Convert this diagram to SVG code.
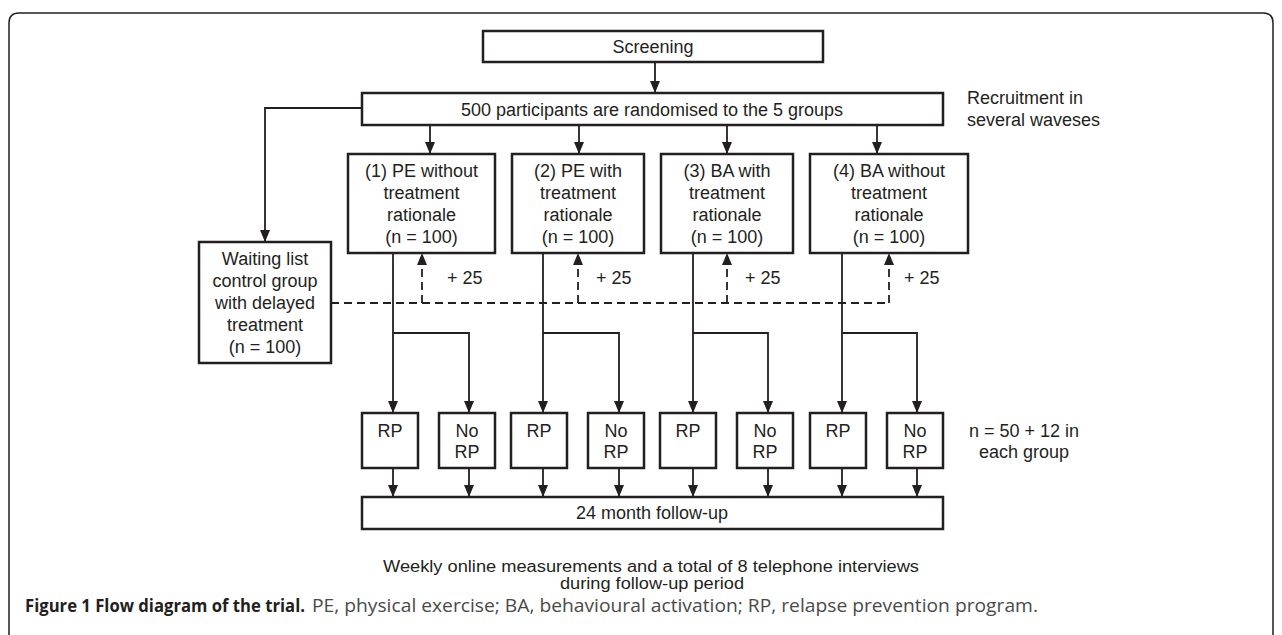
<svg xmlns="http://www.w3.org/2000/svg" width="1282" height="635" viewBox="0 0 1282 635">
<style>
.bx{fill:#fff;stroke:#231f20;stroke-width:2.5}
.t{font-family:"Liberation Sans",Arial,sans-serif;font-size:18px;fill:#231f20;text-anchor:middle}
.tl{font-family:"Liberation Sans",Arial,sans-serif;font-size:18px;fill:#231f20}
.ln{fill:none;stroke:#231f20;stroke-width:1.8}
.dl{fill:none;stroke:#231f20;stroke-width:1.8;stroke-dasharray:8 5}
.nt{font-family:"Liberation Sans",Arial,sans-serif;font-size:16px;fill:#231f20;text-anchor:middle}
.cap{font-family:"Open Sans","Noto Sans",sans-serif;font-size:17px}
</style>
<defs>
<marker id="ah2" viewBox="0 0 12 10" refX="12" refY="5" markerWidth="12" markerHeight="10" markerUnits="userSpaceOnUse" orient="auto">
<path d="M0,0 L12,5 L0,10 Z" fill="#231f20"/>
</marker>
</defs>
<rect width="1282" height="635" fill="#fff"/>
<path d="M9,640 V23 Q9,13 19,13 H1263 Q1273,13 1273,23 V640" fill="none" stroke="#231f20" stroke-width="1.5"/>

<g id="connectors">
<path class="ln" d="M655,62 V93" marker-end="url(#ah2)"/>
<path class="ln" d="M362,108 H265 V242" marker-end="url(#ah2)"/>
<path class="ln" d="M430,125 V154" marker-end="url(#ah2)"/>
<path class="ln" d="M579,125 V154" marker-end="url(#ah2)"/>
<path class="ln" d="M727,125 V154" marker-end="url(#ah2)"/>
<path class="ln" d="M877,125 V154" marker-end="url(#ah2)"/>
<path class="dl" d="M331,303 H889"/>
<path class="dl" d="M422,303 V253" marker-end="url(#ah2)"/>
<path class="dl" d="M578,303 V253" marker-end="url(#ah2)"/>
<path class="dl" d="M727,303 V253" marker-end="url(#ah2)"/>
<path class="dl" d="M889,303 V253" marker-end="url(#ah2)"/>
<path class="ln" d="M393,253 V413" marker-end="url(#ah2)"/>
<path class="ln" d="M393,333 H469 V413" marker-end="url(#ah2)"/>
<path class="ln" d="M543,253 V413" marker-end="url(#ah2)"/>
<path class="ln" d="M543,333 H619 V413" marker-end="url(#ah2)"/>
<path class="ln" d="M693,253 V413" marker-end="url(#ah2)"/>
<path class="ln" d="M693,333 H768 V413" marker-end="url(#ah2)"/>
<path class="ln" d="M842,253 V413" marker-end="url(#ah2)"/>
<path class="ln" d="M842,333 H917 V413" marker-end="url(#ah2)"/>
<path class="ln" d="M393,468 V497" marker-end="url(#ah2)"/>
<path class="ln" d="M469,468 V497" marker-end="url(#ah2)"/>
<path class="ln" d="M543,468 V497" marker-end="url(#ah2)"/>
<path class="ln" d="M619,468 V497" marker-end="url(#ah2)"/>
<path class="ln" d="M693,468 V497" marker-end="url(#ah2)"/>
<path class="ln" d="M768,468 V497" marker-end="url(#ah2)"/>
<path class="ln" d="M842,468 V497" marker-end="url(#ah2)"/>
<path class="ln" d="M917,468 V497" marker-end="url(#ah2)"/>
<text class="tl" x="447" y="284">+ 25</text>
<text class="tl" x="596" y="284">+ 25</text>
<text class="tl" x="745" y="284">+ 25</text>
<text class="tl" x="904" y="284">+ 25</text>
</g>

<g id="screening">
<rect class="bx" x="483" y="31" width="340" height="31"/>
<text class="t" x="653" y="53">Screening</text>
</g>
<g id="randomise">
<rect class="bx" x="362" y="93" width="581" height="32"/>
<text class="t" x="652" y="116">500 participants are randomised to the 5 groups</text>
</g>
<g id="recruitment-note">
<text class="tl" x="967" y="104">Recruitment in</text>
<text class="tl" x="967" y="126">several waveses</text>
</g>
<g id="group1">
<rect class="bx" x="348" y="154" width="147" height="99"/>
<text class="t" x="421.5" y="177">(1) PE without</text>
<text class="t" x="421.5" y="199">treatment</text>
<text class="t" x="421.5" y="221">rationale</text>
<text class="t" x="421.5" y="243">(n = 100)</text>
</g>
<g id="group2">
<rect class="bx" x="512" y="154" width="132" height="99"/>
<text class="t" x="578" y="177">(2) PE with</text>
<text class="t" x="578" y="199">treatment</text>
<text class="t" x="578" y="221">rationale</text>
<text class="t" x="578" y="243">(n = 100)</text>
</g>
<g id="group3">
<rect class="bx" x="661" y="154" width="132" height="99"/>
<text class="t" x="727" y="177">(3) BA with</text>
<text class="t" x="727" y="199">treatment</text>
<text class="t" x="727" y="221">rationale</text>
<text class="t" x="727" y="243">(n = 100)</text>
</g>
<g id="group4">
<rect class="bx" x="810" y="154" width="158" height="99"/>
<text class="t" x="889" y="177">(4) BA without</text>
<text class="t" x="889" y="199">treatment</text>
<text class="t" x="889" y="221">rationale</text>
<text class="t" x="889" y="243">(n = 100)</text>
</g>
<g id="waiting">
<rect class="bx" x="199" y="242" width="132" height="121"/>
<text class="t" x="265" y="265">Waiting list</text>
<text class="t" x="265" y="287">control group</text>
<text class="t" x="265" y="309">with delayed</text>
<text class="t" x="265" y="331">treatment</text>
<text class="t" x="265" y="353">(n = 100)</text>
</g>
<g id="rp1"><rect class="bx" x="362" y="413" width="56" height="55"/><text class="t" x="390" y="437">RP</text></g>
<g id="norp1"><rect class="bx" x="439" y="413" width="56" height="55"/><text class="t" x="467" y="437">No</text><text class="t" x="467" y="458">RP</text></g>
<g id="rp2"><rect class="bx" x="511" y="413" width="56" height="55"/><text class="t" x="539" y="437">RP</text></g>
<g id="norp2"><rect class="bx" x="588" y="413" width="56" height="55"/><text class="t" x="616" y="437">No</text><text class="t" x="616" y="458">RP</text></g>
<g id="rp3"><rect class="bx" x="660" y="413" width="56" height="55"/><text class="t" x="688" y="437">RP</text></g>
<g id="norp3"><rect class="bx" x="737" y="413" width="56" height="55"/><text class="t" x="765" y="437">No</text><text class="t" x="765" y="458">RP</text></g>
<g id="rp4"><rect class="bx" x="810" y="413" width="56" height="55"/><text class="t" x="838" y="437">RP</text></g>
<g id="norp4"><rect class="bx" x="887" y="413" width="56" height="55"/><text class="t" x="915" y="437">No</text><text class="t" x="915" y="458">RP</text></g>
<g id="group-size-note">
<text class="t" x="1024" y="437">n = 50 + 12 in</text>
<text class="t" x="1024" y="458">each group</text>
</g>
<g id="followup">
<rect class="bx" x="362" y="497" width="581" height="32"/>
<text class="t" x="652" y="519">24 month follow-up</text>
</g>
<g id="followup-note">
<text class="nt" x="651" y="572" textLength="536" lengthAdjust="spacingAndGlyphs">Weekly online measurements and a total of 8 telephone interviews</text>
<text class="nt" x="652" y="589" textLength="184" lengthAdjust="spacingAndGlyphs">during follow-up period</text>
</g>
<g id="caption">
<text class="cap" x="25" y="612" font-weight="bold" fill="#231f20" textLength="280" lengthAdjust="spacingAndGlyphs">Figure 1 Flow diagram of the trial.</text>
<text class="cap" x="312" y="612" fill="#4a4a4a" style="font-size:18px" textLength="726" lengthAdjust="spacingAndGlyphs">PE, physical exercise; BA, behavioural activation; RP, relapse prevention program.</text>
</g>
</svg>
